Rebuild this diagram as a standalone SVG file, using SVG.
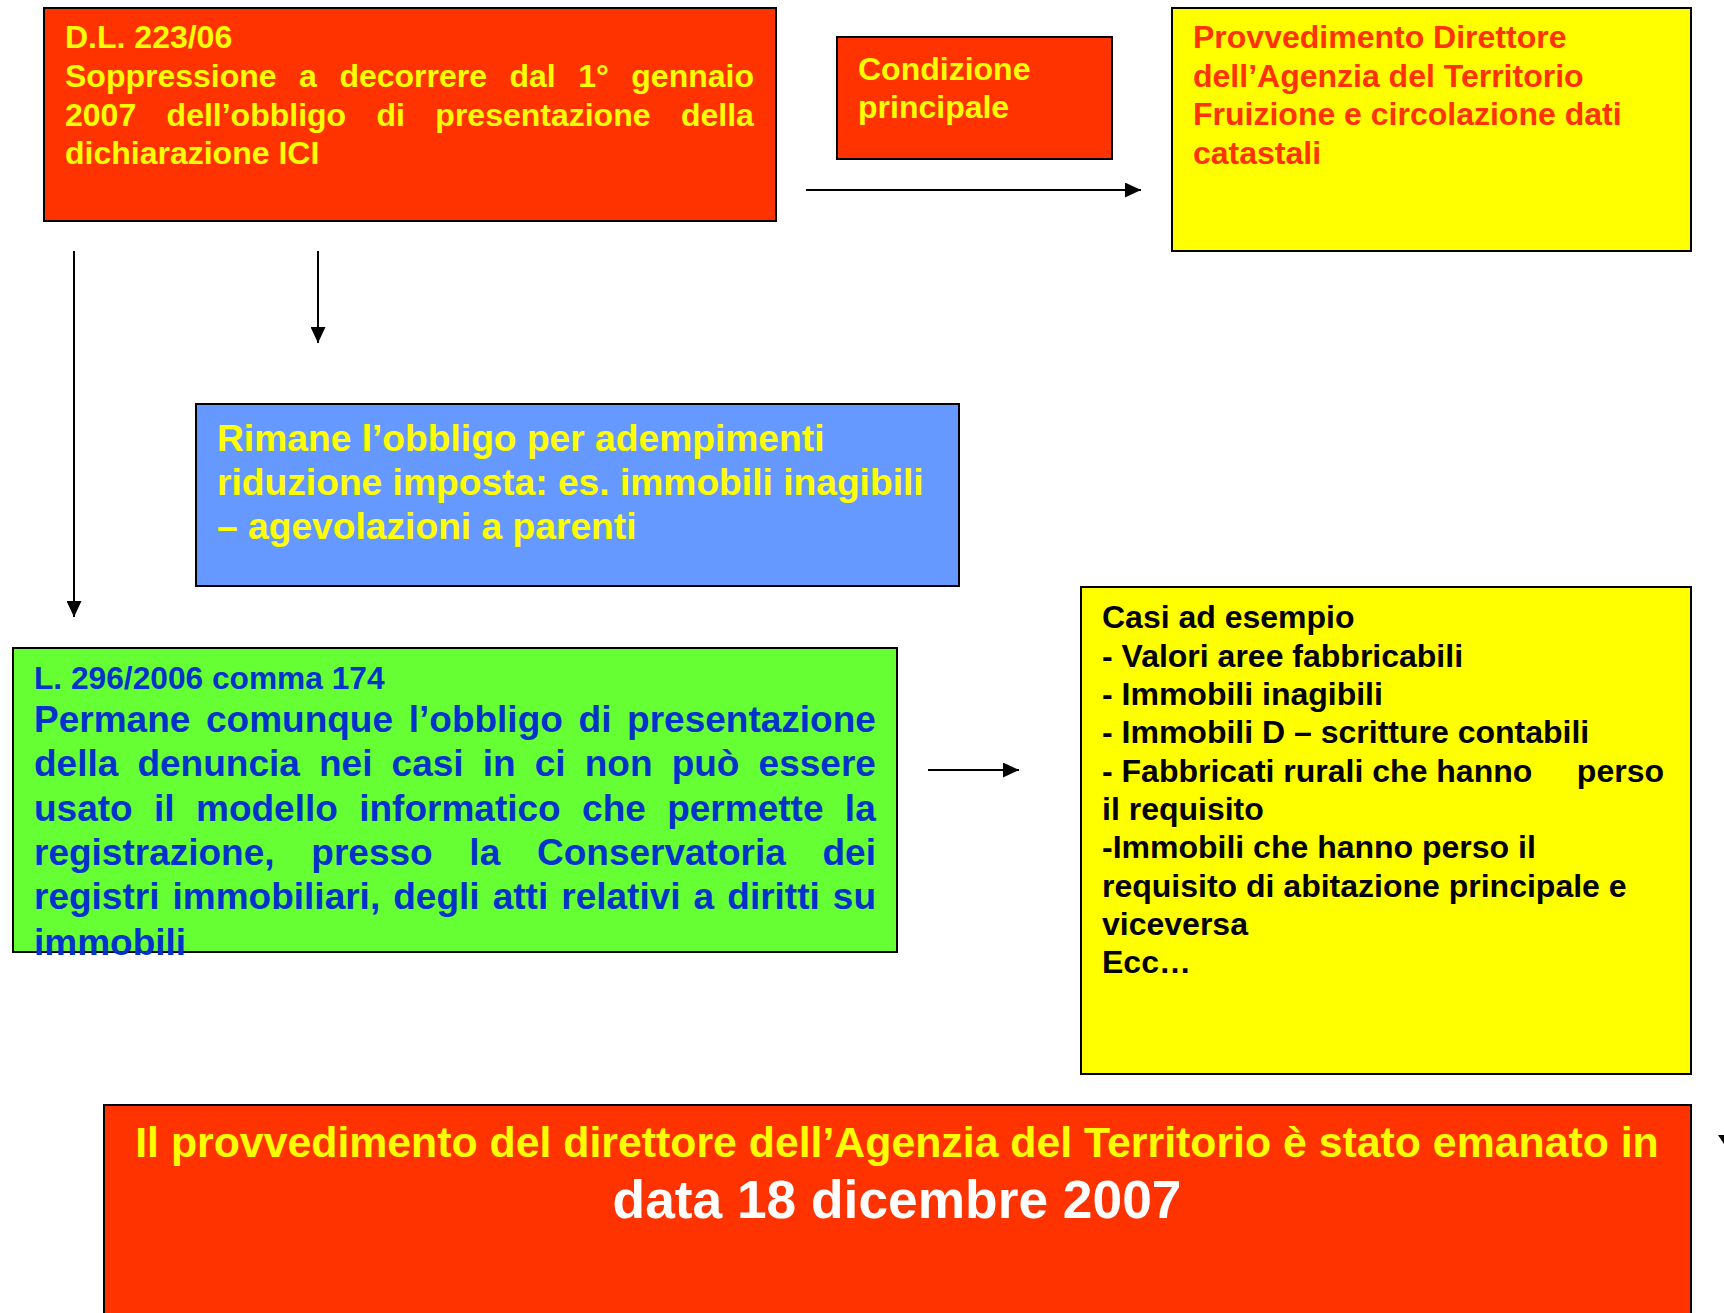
<svg xmlns="http://www.w3.org/2000/svg" width="1724" height="1313" viewBox="0 0 1724 1313">
  <style>
    .box { stroke: #000; stroke-width: 2; }
    .red { fill: #FF3300; }
    .yel { fill: #FFFF00; }
    .blu { fill: #6699FF; }
    .grn { fill: #66FF33; }
    text { font-family: "Liberation Sans", Arial, sans-serif; font-weight: bold; }
    .t32 { font-size: 32px; }
    .t37 { font-size: 37px; }
    .ty { fill: #FFFF00; }
    .tr { fill: #FF3300; }
    .tb { fill: #0033CC; }
    .tk { fill: #000; }
    .tw { fill: #FFFFFF; }
    .conn { stroke: #000; stroke-width: 2; fill: none; }
  </style>
  <defs>
    <marker id="ah" viewBox="0 0 16 15" refX="16" refY="7.5" markerWidth="16" markerHeight="15" markerUnits="userSpaceOnUse" orient="auto">
      <path d="M0,0 L16,7.5 L0,15 Z" fill="#000"/>
    </marker>
  </defs>
  <rect width="1724" height="1313" fill="#FFFFFF"/>

  <g id="connectors">
    <line class="conn" x1="806" y1="190" x2="1141" y2="190" marker-end="url(#ah)"/>
    <line class="conn" x1="74" y1="251" x2="74" y2="617" marker-end="url(#ah)"/>
    <line class="conn" x1="318" y1="251" x2="318" y2="343" marker-end="url(#ah)"/>
    <line class="conn" x1="928" y1="770" x2="1019" y2="770" marker-end="url(#ah)"/>
    <path d="M1718,1135 L1724,1135 L1724,1144 Z" fill="#000"/>
  </g>

  <g id="node-dl">
    <rect class="box red" x="44" y="8" width="732" height="213"/>
    <text class="t32 ty" x="65" y="48">D.L. 223/06</text>
    <text class="t32 ty" x="65" y="87" style="word-spacing:13.6px">Soppressione a decorrere dal 1° gennaio</text>
    <text class="t32 ty" x="65" y="126" style="word-spacing:21.5px">2007 dell’obbligo di presentazione della</text>
    <text class="t32 ty" x="65" y="164">dichiarazione ICI</text>
  </g>

  <g id="node-condizione">
    <rect class="box red" x="837" y="37" width="275" height="122"/>
    <text class="t32 ty" x="858" y="80">Condizione</text>
    <text class="t32 ty" x="858" y="118">principale</text>
  </g>

  <g id="node-provvedimento">
    <rect class="box yel" x="1172" y="8" width="519" height="243"/>
    <text class="t32 tr" x="1193" y="48">Provvedimento Direttore</text>
    <text class="t32 tr" x="1193" y="87">dell’Agenzia del Territorio</text>
    <text class="t32 tr" x="1193" y="125">Fruizione e circolazione dati</text>
    <text class="t32 tr" x="1193" y="164">catastali</text>
  </g>

  <g id="node-rimane">
    <rect class="box blu" x="196" y="404" width="763" height="182"/>
    <text class="ty" style="font-size:37.2px" x="217" y="451">Rimane l’obbligo per adempimenti</text>
    <text class="ty" style="font-size:37.2px" x="217" y="495">riduzione imposta: es. immobili inagibili</text>
    <text class="ty" style="font-size:37.2px" x="217" y="539">– agevolazioni a parenti</text>
  </g>

  <g id="node-legge">
    <rect class="box grn" x="13" y="648" width="884" height="304"/>
    <text class="tb" style="font-size:31.7px" x="34" y="689">L. 296/2006 comma 174</text>
    <text class="t37 tb" x="34" y="732" style="word-spacing:5.4px">Permane comunque l’obbligo di presentazione</text>
    <text class="t37 tb" x="34" y="776" style="word-spacing:8.85px">della denuncia nei casi in ci non può essere</text>
    <text class="t37 tb" x="34" y="821" style="word-spacing:11.1px">usato il modello informatico che permette la</text>
    <text class="t37 tb" x="34" y="865" style="word-spacing:26.45px">registrazione, presso la Conservatoria dei</text>
    <text class="t37 tb" x="34" y="909" style="word-spacing:2.8px">registri immobiliari, degli atti relativi a diritti su</text>
    <text class="t37 tb" x="34" y="955">immobili</text>
  </g>

  <g id="node-casi">
    <rect class="box yel" x="1081" y="587" width="610" height="487"/>
    <text class="t32 tk" x="1102" y="628">Casi ad esempio</text>
    <text class="t32 tk" x="1102" y="667">- Valori aree fabbricabili</text>
    <text class="t32 tk" x="1102" y="705">- Immobili inagibili</text>
    <text class="t32 tk" x="1102" y="743">- Immobili D – scritture contabili</text>
    <text class="t32 tk" x="1102" y="782">- Fabbricati rurali che hanno</text>
    <text class="t32 tk" x="1664" y="782" text-anchor="end">perso</text>
    <text class="t32 tk" x="1102" y="820">il requisito</text>
    <text class="t32 tk" x="1102" y="858">-Immobili che hanno perso il</text>
    <text class="t32 tk" x="1102" y="897">requisito di abitazione principale e</text>
    <text class="t32 tk" x="1102" y="935">viceversa</text>
    <text class="t32 tk" x="1102" y="973">Ecc…</text>
  </g>

  <g id="node-data">
    <rect class="box red" x="104" y="1105" width="1587" height="220"/>
    <text class="ty" x="897" y="1157" text-anchor="middle" style="font-size:42.8px">Il provvedimento del direttore dell’Agenzia del Territorio è stato emanato in</text>
    <text class="tw" x="897" y="1218" text-anchor="middle" style="font-size:53.3px">data 18 dicembre 2007</text>
  </g>
</svg>
